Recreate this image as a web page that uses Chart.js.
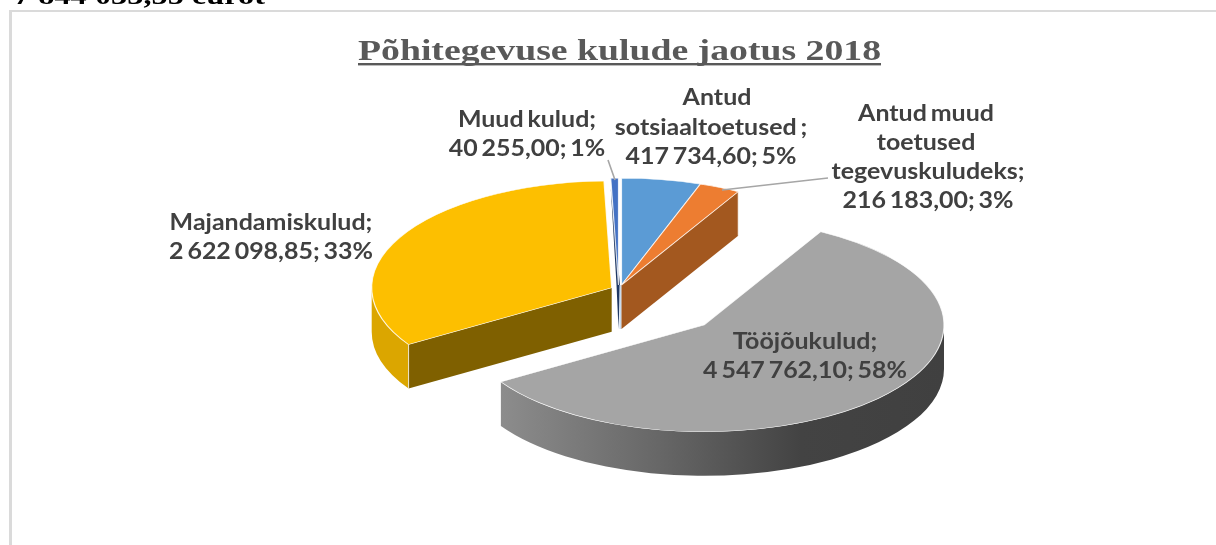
<!DOCTYPE html>
<html lang="et">
<head>
<meta charset="utf-8">
<style>
html,body{margin:0;padding:0;background:#fff;overflow:hidden}
canvas{display:block;filter:blur(.45px)}
</style>
<script src="https://cdn.jsdelivr.net/npm/chart.js@4/dist/chart.umd.min.js"></script>
</head>
<body>
<canvas id="c" width="1216" height="545"></canvas>
<script>
const categories = ["Antud sotsiaaltoetused", "Antud muud toetused tegevuskuludeks", "Tööjõukulud", "Majandamiskulud", "Muud kulud"];
const values = [417734.60, 216183.00, 4547762.10, 2622098.85, 40255.00];
const percentLabels = ["5%", "3%", "58%", "33%", "1%"];
const valueLabels = ["417 734,60", "216 183,00", "4 547 762,10", "2 622 098,85", "40 255,00"];
const titleText = "Põhitegevuse kulude jaotus 2018";
const headingText = "7 844 033,55 eurot";

const topColors = ["#5b9bd5", "#ed7d31", "#a5a5a5", "#fdbf00", "#4472c4"];
const wallColors = ["#c9dcef", "#a3581f", null, "#7f6000", "#1f3864"];
const rimColors = [null, null, "gradient", "#dba600", null];

const TILT = 0.445, DEPTH = 44, RADIUS = 240;
const CENTER = {x: 621.5, y: 285};
const shifts = [[0,0],[0,0],[82.5,40],[-9.8,2.7],[-3,0]];
const drawOrder = [3,4,0,1,2];

const labelLayout = [
  {lines:["Antud","sotsiaaltoetused ;", valueLabels[0]+"; "+percentLabels[0]], cx:[717,711,711], y:[105,135,164]},
  {lines:["Antud muud","toetused","tegevuskuludeks;", valueLabels[1]+"; "+percentLabels[1]], cx:[926,926,928,928], y:[121,150,179,208]},
  {lines:["Tööjõukulud;", valueLabels[2]+"; "+percentLabels[2]], cx:[805,805], y:[349,378]},
  {lines:["Majandamiskulud;", valueLabels[3]+"; "+percentLabels[3]], cx:[271,271], y:[230,259]},
  {lines:["Muud kulud;", valueLabels[4]+"; "+percentLabels[4]], cx:[527,527], y:[127,156]}
];
const LABEL_FONT = '700 22px Lato', LABEL_STRETCH = 1.135;

function stretchedText(ctx, text, x, y, sx, align) {
  ctx.save();
  ctx.textAlign = align;
  ctx.translate(x, y);
  ctx.scale(sx, 1);
  ctx.fillText(text, 0, 0);
  ctx.restore();
}

const pie3d = {
  id: 'pie3d',
  beforeDraw(chart) {
    const ctx = chart.ctx;
    ctx.save();
    ctx.fillStyle = '#fff';
    ctx.fillRect(0, 0, chart.width, chart.height);
    ctx.fillStyle = '#dadada';
    ctx.fillRect(9, 10, 3, chart.height - 10);
    ctx.fillRect(9, 10, chart.width - 9, 2);
    ctx.fillStyle = '#000';
    ctx.font = 'bold 25px "Liberation Serif"';
    ctx.textBaseline = 'alphabetic';
    const w = ctx.measureText(headingText).width;
    stretchedText(ctx, headingText, 14, 4, 251 / w, 'left');
    ctx.restore();
  },
  beforeDatasetsDraw(chart) {
    const ctx = chart.ctx;
    const arcs = chart.getDatasetMeta(0).data;
    drawOrder.forEach(i => {
      const el = arcs[i];
      const p = el.getProps(['x','y','startAngle','endAngle','outerRadius']);
      const cx = CENTER.x + shifts[i][0], cy = CENTER.y + shifts[i][1];
      const R = p.outerRadius, ry = R * TILT;
      const pt = a => [cx + R * Math.cos(a), cy + ry * Math.sin(a)];
      ctx.save();
      // outer rim, visible only for the front half of the ellipse
      if (rimColors[i]) {
        const from = Math.max(p.startAngle, 0), to = Math.min(p.endAngle, Math.PI);
        if (to > from) {
          let fill = rimColors[i];
          if (fill === 'gradient') {
            fill = ctx.createLinearGradient(cx - R * 0.86, 0, cx + R, 0);
            fill.addColorStop(0, '#8d8d8d');
            fill.addColorStop(0.36, '#676767');
            fill.addColorStop(0.68, '#434343');
            fill.addColorStop(1, '#404040');
          }
          ctx.fillStyle = fill;
          ctx.beginPath();
          ctx.ellipse(cx, cy, R, ry, 0, from, to);
          ctx.ellipse(cx, cy + DEPTH, R, ry, 0, to, from, true);
          ctx.closePath();
          ctx.fill();
        }
      }
      // radial walls
      if (i === 3 || i === 1) {
        const [ox, oy] = pt(i === 3 ? p.startAngle : p.endAngle);
        ctx.fillStyle = wallColors[i];
        ctx.beginPath();
        ctx.moveTo(cx, cy); ctx.lineTo(ox, oy);
        ctx.lineTo(ox, oy + DEPTH); ctx.lineTo(cx, cy + DEPTH);
        ctx.closePath(); ctx.fill();
        ctx.strokeStyle = 'rgba(255,255,255,.75)';
        ctx.lineWidth = 1;
        ctx.beginPath(); ctx.moveTo(ox, oy); ctx.lineTo(ox, oy + DEPTH); ctx.stroke();
      }
      if (i === 4) {
        const [ox, oy] = pt(p.startAngle);
        ctx.fillStyle = wallColors[4];
        ctx.beginPath();
        ctx.moveTo(ox, oy + 10); ctx.lineTo(cx - 2, cy);
        ctx.lineTo(cx, cy + DEPTH); ctx.lineTo(cx + 1.5, cy);
        ctx.closePath(); ctx.fill();
      }
      if (i === 0) {
        ctx.fillStyle = wallColors[0];
        ctx.fillRect(cx - 2, cy, 2, DEPTH);
      }
      // top face: the library's own arc element, flattened
      ctx.translate(cx, cy);
      ctx.scale(1, TILT);
      ctx.translate(-p.x, -p.y);
      el.draw(ctx);
      ctx.restore();
    });
    return false;
  },
  afterDraw(chart) {
    const ctx = chart.ctx;
    ctx.save();
    // leader lines
    ctx.strokeStyle = '#a6a6a6';
    ctx.lineWidth = 1.6;
    ctx.beginPath();
    ctx.moveTo(608, 160); ctx.lineTo(615, 180);
    ctx.moveTo(722, 190); ctx.lineTo(828, 178);
    ctx.stroke();
    // title
    ctx.fillStyle = '#595959';
    ctx.font = 'bold 30px "Liberation Serif"';
    ctx.textBaseline = 'alphabetic';
    const tw = ctx.measureText(titleText).width;
    stretchedText(ctx, titleText, 358, 60, 523 / tw, 'left');
    ctx.fillRect(358, 63, 523, 2.4);
    // data labels
    ctx.fillStyle = '#404040';
    ctx.font = LABEL_FONT;
    ctx.wordSpacing = '-2px';
    labelLayout.forEach(l => l.lines.forEach((t, k) => {
      stretchedText(ctx, t, l.cx[k], l.y[k], LABEL_STRETCH, 'center');
    }));
    ctx.restore();
  }
};

new Chart(document.getElementById('c'), {
  type: 'pie',
  data: {
    labels: categories,
    datasets: [{
      data: values,
      backgroundColor: topColors,
      borderColor: 'rgba(255,255,255,.8)',
      borderWidth: 1.2
    }]
  },
  options: {
    responsive: false,
    animation: false,
    rotation: 0,
    radius: RADIUS,
    events: [],
    plugins: {legend: {display: false}, tooltip: {enabled: false}, title: {display: false}}
  },
  plugins: [pie3d]
});
</script>
</body>
</html>
